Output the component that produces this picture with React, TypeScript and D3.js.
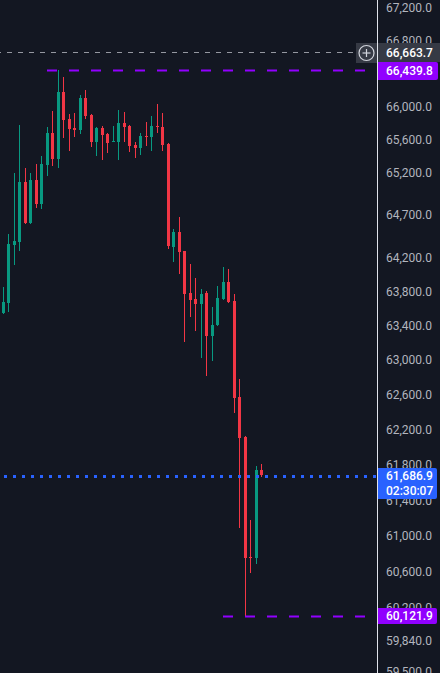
import React from "react";
import * as d3 from "d3";

const opens = [63548, 63670, 64343, 64379, 65090, 64603, 65125, 64828, 65304, 65688, 65376, 66182, 65856, 65748, 65724, 66109, 65904, 65579, 65748, 65675, 65579, 65579, 65808, 65772, 65543, 65507, 65651, 65640, 65772, 65760, 65555, 64320, 64497, 64273, 63781, 63711, 63653, 63781, 63282, 63409, 63711, 63910, 63688, 62579, 62123, 60774, 60763, 61750];
const highs = [63851, 64473, 65197, 65784, 65268, 65197, 65316, 65411, 65760, 65952, 66439.8, 66364, 65916, 65928, 66145, 66206, 65910, 65760, 65772, 65680, 65772, 65964, 65940, 65780, 65579, 65688, 65820, 65892, 66036, 65928, 65560, 64532, 64674, 64280, 64121, 63957, 63828, 63805, 63618, 63863, 64085, 64062, 63770, 62786, 62130, 61187, 61795, 61817];
const lows = [63537, 63560, 64109, 64273, 64595, 64592, 64780, 64769, 65173, 65292, 65268, 65627, 65471, 65639, 65676, 65856, 65519, 65411, 65364, 65447, 65575, 65364, 65579, 65459, 65388, 65423, 65531, 65471, 65688, 65471, 64296, 64144, 64004, 63212, 63502, 63340, 63027, 62820, 62993, 63398, 63700, 63670, 62396, 61098, 60121.9, 60597, 60697, 61670];
const closes = [63676, 64355, 64391, 65090, 64603, 65125, 64828, 65316, 65688, 65376, 66182, 65844, 65736, 65724, 66109, 65892, 65579, 65748, 65663, 65567, 65591, 65808, 65760, 65531, 65507, 65651, 65640, 65772, 65765, 65543, 64332, 64497, 64261, 63770, 63699, 63653, 63770, 63282, 63409, 63723, 63910, 63676, 62568, 62112, 60763, 60765, 61750, 61686.9];

const tickValues = [67200, 66800, 66000, 65600, 65200, 64700, 64200, 63800, 63400, 63000, 62600, 62200, 61800, 61400, 61000, 60600, 60200, 59840, 59500];

const markPrice = 66663.7;
const highPrice = 66439.8;
const lowPrice = 60121.9;
const lastPrice = 61686.9;
const countdown = "02:30:07";

const W = 440;
const H = 673;
const AXIS_X = 377;
const FONT = "Roboto, 'Noto Sans', sans-serif";

export default function App() {
  const y = d3.scaleLog().domain([59492, 67304]).range([H, 0]);
  const x = d3.scaleLinear().domain([0, 47]).range([3.3, 261.8]);
  const fmt = d3.format(",.1f");
  const up = "#089981";
  const down = "#f23645";
  const purple = "#9100ff";

  const candles = opens.map((o, i) => {
    const c = closes[i];
    const col = c >= o ? up : down;
    const cx = Math.floor(x(i));
    const top = Math.round(y(Math.max(o, c)));
    const bot = Math.round(y(Math.min(o, c)));
    const wt = Math.round(y(highs[i]));
    const wb = Math.round(y(lows[i]));
    return (
      <g key={i}>
        <rect x={cx} y={wt} width={1} height={Math.max(1, wb - wt)} fill={col} />
        <rect x={cx - 1} y={top} width={3} height={Math.max(1, bot - top)} fill={col} />
      </g>
    );
  });

  const yMark = Math.round(y(markPrice)) + 0.5;
  const yHigh = Math.round(y(highPrice)) + 0.5;
  const yLow = Math.round(y(lowPrice)) + 0.5;
  const yLast = y(lastPrice) + 1.2;

  return (
    <svg
      width={W}
      height={H}
      style={{ position: "fixed", left: 0, top: 0, display: "block", background: "#131722" }}
    >
      <rect x={0} y={0} width={W} height={H} fill="#131722" />
      {candles}
      <line x1={-4} x2={355} y1={yMark} y2={yMark} stroke="#9598a1" strokeWidth={1} strokeDasharray="5 6" />
      <line x1={47} x2={366} y1={yHigh} y2={yHigh} stroke={purple} strokeWidth={2} strokeDasharray="10 12" />
      <line x1={223} x2={366} y1={yLow} y2={yLow} stroke={purple} strokeWidth={2} strokeDasharray="10 12" />
      <line x1={4} x2={377} y1={yLast} y2={yLast} stroke="#2962ff" strokeWidth={3} strokeDasharray="3 6" />
      <line x1={AXIS_X + 0.5} x2={AXIS_X + 0.5} y1={0} y2={H} stroke="#e0e3eb" strokeWidth={1} />
      {tickValues.map((t) => (
        <text
          key={t}
          x={386}
          y={y(t)}
          dominantBaseline="central"
          fontFamily={FONT}
          fontSize={12}
          fill="#b2b5be"
        >
          {fmt(t)}
        </text>
      ))}
      <rect x={356} y={43} width={21} height={20} fill="#363a45" />
      <circle cx={366.5} cy={53} r={7.5} fill="none" stroke="#d1d4dc" strokeWidth={1.2} />
      <line x1={362.5} x2={370.5} y1={53} y2={53} stroke="#d1d4dc" strokeWidth={1.2} />
      <line x1={366.5} x2={366.5} y1={49} y2={57} stroke="#d1d4dc" strokeWidth={1.2} />
      <rect x={378} y={43} width={62} height={19} fill="#363a45" />
      <text x={386} y={52.5} dominantBaseline="central" fontFamily={FONT} fontSize={12} fontWeight={500} fill="#ffffff">
        {fmt(markPrice)}
      </text>
      <path d={`M378,62 H436 a2,2 0 0 1 2,2 V78 a2,2 0 0 1 -2,2 H378 Z`} fill={purple} />
      <text x={386} y={71} dominantBaseline="central" fontFamily={FONT} fontSize={12} fontWeight={500} fill="#ffffff">
        {fmt(highPrice)}
      </text>
      <path d={`M378,468 H435 a2,2 0 0 1 2,2 V497 a2,2 0 0 1 -2,2 H378 Z`} fill="#2962ff" />
      <text x={386} y={476} dominantBaseline="central" fontFamily={FONT} fontSize={12} fontWeight={500} fill="#ffffff">
        {fmt(lastPrice)}
      </text>
      <text x={386} y={490.5} dominantBaseline="central" fontFamily={FONT} fontSize={12} fontWeight={500} fill="#ffffff">
        {countdown}
      </text>
      <path d={`M378,608 H435 a2,2 0 0 1 2,2 V622 a2,2 0 0 1 -2,2 H378 Z`} fill={purple} />
      <text x={386} y={616} dominantBaseline="central" fontFamily={FONT} fontSize={12} fontWeight={500} fill="#ffffff">
        {fmt(lowPrice)}
      </text>
    </svg>
  );
}
